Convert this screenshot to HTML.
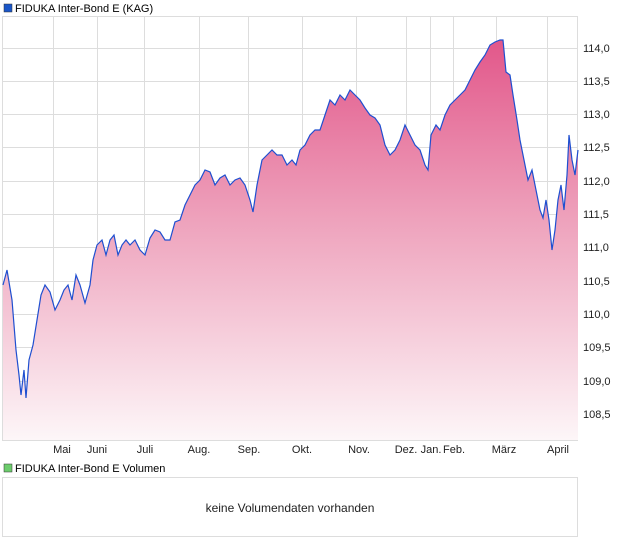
<!DOCTYPE html>
<html><head><meta charset="utf-8"><style>
body{margin:0;background:#fff;font-family:"Liberation Sans",sans-serif;}
</style></head><body>
<svg width="620" height="546" viewBox="0 0 620 546" xmlns="http://www.w3.org/2000/svg" font-family="Liberation Sans, sans-serif" font-size="11">
<defs>
<linearGradient id="g" x1="0" y1="0" x2="0" y2="1">
<stop offset="0" stop-color="#e2578a"/>
<stop offset="0.45" stop-color="#eea2bc"/>
<stop offset="1" stop-color="#fdf6f8"/>
</linearGradient>
</defs>
<rect x="4" y="4" width="8" height="8" fill="#1a56c8" stroke="#333" stroke-width="0.5"/>
<text x="15" y="12">FIDUKA Inter-Bond E (KAG)</text>
<rect x="2.5" y="16.5" width="575" height="424" fill="#fff" stroke="#ddd"/>
<g stroke="#ddd" stroke-width="1">
<line x1="53.5" y1="16" x2="53.5" y2="441"/><line x1="97.5" y1="16" x2="97.5" y2="441"/>
<line x1="144.5" y1="16" x2="144.5" y2="441"/><line x1="199.5" y1="16" x2="199.5" y2="441"/>
<line x1="248.5" y1="16" x2="248.5" y2="441"/><line x1="302.5" y1="16" x2="302.5" y2="441"/>
<line x1="356.5" y1="16" x2="356.5" y2="441"/><line x1="406.5" y1="16" x2="406.5" y2="441"/>
<line x1="430.5" y1="16" x2="430.5" y2="441"/><line x1="453.5" y1="16" x2="453.5" y2="441"/>
<line x1="496.5" y1="16" x2="496.5" y2="441"/><line x1="547.5" y1="16" x2="547.5" y2="441"/>
<line x1="2" y1="48.5" x2="578" y2="48.5"/><line x1="2" y1="81.5" x2="578" y2="81.5"/>
<line x1="2" y1="114.5" x2="578" y2="114.5"/><line x1="2" y1="147.5" x2="578" y2="147.5"/>
<line x1="2" y1="181.5" x2="578" y2="181.5"/><line x1="2" y1="214.5" x2="578" y2="214.5"/>
<line x1="2" y1="247.5" x2="578" y2="247.5"/><line x1="2" y1="281.5" x2="578" y2="281.5"/>
<line x1="2" y1="314.5" x2="578" y2="314.5"/><line x1="2" y1="347.5" x2="578" y2="347.5"/>
<line x1="2" y1="381.5" x2="578" y2="381.5"/><line x1="2" y1="414.5" x2="578" y2="414.5"/>
</g>
<path id="p" d="M3,285 L7,270 L12,300 L16,350 L19,375 L21,395 L24,370 L26,398 L29,360 L33,345 L37,320 L41,295 L45,285 L50,292 L55,310 L60,300 L64,290 L68,285 L72,300 L76,275 L80,285 L85,303 L90,285 L93,260 L97,245 L102,240 L106,255 L110,240 L114,235 L118,255 L122,245 L126,240 L130,245 L135,240 L140,250 L145,255 L150,238 L155,230 L160,232 L165,240 L170,240 L175,222 L180,220 L185,205 L190,195 L195,185 L200,180 L205,170 L210,172 L215,185 L220,178 L225,175 L230,185 L235,180 L240,178 L245,185 L250,200 L253,212 L257,185 L262,160 L267,155 L272,150 L277,155 L282,155 L287,165 L292,160 L296,165 L300,150 L305,145 L310,135 L315,130 L320,130 L325,115 L330,100 L335,105 L340,95 L345,100 L350,90 L355,95 L360,100 L365,108 L370,115 L375,118 L380,125 L385,145 L390,155 L395,150 L400,140 L405,125 L410,135 L415,145 L420,150 L425,165 L428,170 L431,135 L436,125 L440,130 L445,115 L450,105 L455,100 L460,95 L465,90 L470,80 L475,70 L480,62 L485,55 L490,45 L495,42 L500,40 L503,40 L506,72 L510,75 L513,95 L517,120 L520,140 L524,160 L528,180 L532,170 L536,190 L540,210 L543,218 L546,200 L549,220 L552,250 L555,230 L558,200 L561,185 L564,210 L567,175 L569,135 L572,160 L575,175 L578,150" fill="none"/>
<path d="M3,285 L7,270 L12,300 L16,350 L19,375 L21,395 L24,370 L26,398 L29,360 L33,345 L37,320 L41,295 L45,285 L50,292 L55,310 L60,300 L64,290 L68,285 L72,300 L76,275 L80,285 L85,303 L90,285 L93,260 L97,245 L102,240 L106,255 L110,240 L114,235 L118,255 L122,245 L126,240 L130,245 L135,240 L140,250 L145,255 L150,238 L155,230 L160,232 L165,240 L170,240 L175,222 L180,220 L185,205 L190,195 L195,185 L200,180 L205,170 L210,172 L215,185 L220,178 L225,175 L230,185 L235,180 L240,178 L245,185 L250,200 L253,212 L257,185 L262,160 L267,155 L272,150 L277,155 L282,155 L287,165 L292,160 L296,165 L300,150 L305,145 L310,135 L315,130 L320,130 L325,115 L330,100 L335,105 L340,95 L345,100 L350,90 L355,95 L360,100 L365,108 L370,115 L375,118 L380,125 L385,145 L390,155 L395,150 L400,140 L405,125 L410,135 L415,145 L420,150 L425,165 L428,170 L431,135 L436,125 L440,130 L445,115 L450,105 L455,100 L460,95 L465,90 L470,80 L475,70 L480,62 L485,55 L490,45 L495,42 L500,40 L503,40 L506,72 L510,75 L513,95 L517,120 L520,140 L524,160 L528,180 L532,170 L536,190 L540,210 L543,218 L546,200 L549,220 L552,250 L555,230 L558,200 L561,185 L564,210 L567,175 L569,135 L572,160 L575,175 L578,150 L578,440 L3,440 Z" fill="url(#g)"/>
<use href="#p" stroke="#1f4fd0" stroke-width="1.2"/>
<g fill="#222" text-anchor="start">
<text x="583" y="52">114,0</text><text x="583" y="85">113,5</text><text x="583" y="118">113,0</text>
<text x="583" y="151">112,5</text><text x="583" y="185">112,0</text><text x="583" y="218">111,5</text>
<text x="583" y="251">111,0</text><text x="583" y="285">110,5</text><text x="583" y="318">110,0</text>
<text x="583" y="351">109,5</text><text x="583" y="385">109,0</text><text x="583" y="418">108,5</text>
</g>
<g fill="#222" text-anchor="middle">
<text x="62" y="453">Mai</text><text x="97" y="453">Juni</text><text x="145" y="453">Juli</text>
<text x="199" y="453">Aug.</text><text x="249" y="453">Sep.</text><text x="302" y="453">Okt.</text>
<text x="359" y="453">Nov.</text><text x="406" y="453">Dez.</text><text x="431" y="453">Jan.</text>
<text x="454" y="453">Feb.</text><text x="504" y="453">März</text><text x="558" y="453">April</text>
</g>
<rect x="4" y="464" width="8" height="8" fill="#6ccc6c" stroke="#333" stroke-width="0.5"/>
<text x="15" y="472">FIDUKA Inter-Bond E Volumen</text>
<rect x="2.5" y="477.5" width="575" height="59" fill="#fff" stroke="#ddd"/>
<text x="290" y="512" text-anchor="middle" font-size="12" fill="#222">keine Volumendaten vorhanden</text>
</svg>
</body></html>
